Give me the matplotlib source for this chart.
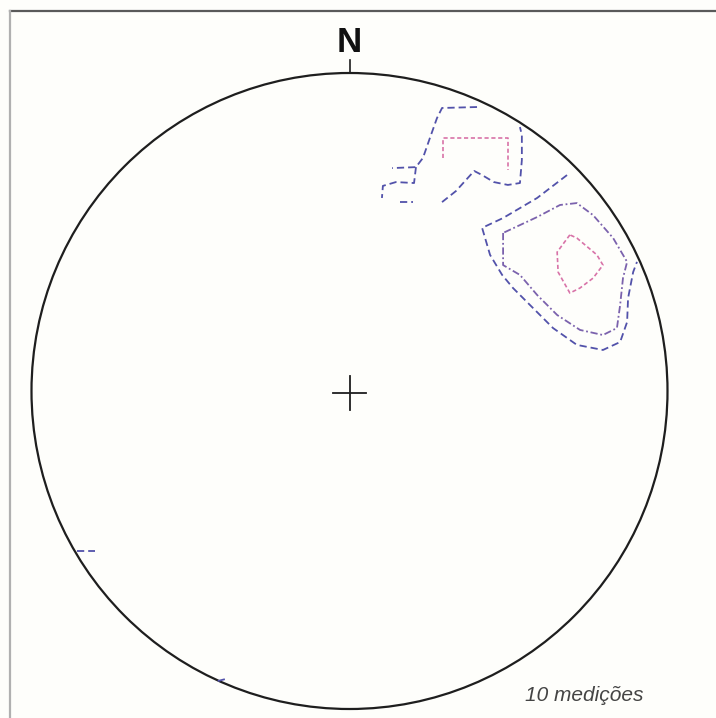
import numpy as np
import matplotlib
matplotlib.use("Agg")
import matplotlib.pyplot as plt
from matplotlib.patches import Circle

# stereonet (unit circle) coordinates of the density contours

# upper group, outer (blue) contour, drawn in pieces
upper_outer_a_x = [0.401, 0.291, 0.275, 0.253, 0.231, 0.209, 0.134]
upper_outer_a_y = [0.893, 0.890, 0.858, 0.796, 0.733, 0.704, 0.701]
upper_outer_b_x = [0.209, 0.203, 0.146, 0.105, 0.102]
upper_outer_b_y = [0.704, 0.654, 0.657, 0.645, 0.607]
upper_outer_c_x = [0.159, 0.200]
upper_outer_c_y = [0.594, 0.594]
upper_outer_d_x = [0.291, 0.335, 0.392, 0.417, 0.454, 0.498, 0.536, 0.542, 0.542, 0.536]
upper_outer_d_y = [0.594, 0.629, 0.692, 0.679, 0.657, 0.648, 0.654, 0.726, 0.805, 0.830]

# upper group, inner (pink) contour
upper_inner_x = [0.294, 0.294, 0.498, 0.498]
upper_inner_y = [0.733, 0.796, 0.796, 0.695]

# lower group, outer (blue) contour
lower_outer_x = [0.684, 0.590, 0.483, 0.417, 0.442, 0.480, 0.514, 0.568, 0.640,
                 0.715, 0.797, 0.851, 0.873, 0.876, 0.892, 0.904]
lower_outer_y = [0.679, 0.607, 0.544, 0.513, 0.428, 0.365, 0.324, 0.270, 0.198,
                 0.145, 0.129, 0.154, 0.217, 0.292, 0.374, 0.406]

# lower group, middle (purple) contour
lower_mid_x = [0.483, 0.483, 0.536, 0.590, 0.653, 0.725, 0.797, 0.841, 0.851,
               0.860, 0.873, 0.829, 0.766, 0.715, 0.662, 0.590, 0.483]
lower_mid_y = [0.497, 0.396, 0.365, 0.302, 0.239, 0.192, 0.176, 0.198, 0.270,
               0.355, 0.406, 0.481, 0.553, 0.591, 0.585, 0.547, 0.497]

# lower group, inner (pink) contour
lower_inner_x = [0.693, 0.653, 0.656, 0.693, 0.725, 0.766, 0.797, 0.778, 0.715, 0.693]
lower_inner_y = [0.491, 0.437, 0.374, 0.308, 0.324, 0.355, 0.396, 0.428, 0.481, 0.491]

# small pieces near the rim
west_stub_x = [-0.857, -0.800]
west_stub_y = [-0.503, -0.503]
south_stub_x = [-0.414, -0.391]
south_stub_y = [-0.912, -0.906]

north_label = "N"
count_label = "10 medições"

blue = "#5252aa"
purple = "#7b62ad"
pink = "#d873a8"

fig = plt.figure(figsize=(7.16, 7.18), dpi=100, facecolor="#fefefb")
ax = fig.add_axes([0, 0, 1, 1])
ax.set_facecolor("#fefefb")
ax.set_xlim(-349.5 / 318, 366.5 / 318)
ax.set_ylim(-327 / 318, 391 / 318)
ax.set_aspect("equal")
ax.axis("off")

# frame lines (top and left only)
ax.plot([0.014, 1.0], [0.985, 0.985], color="#5a5a5a", lw=1.6, transform=ax.transAxes)
ax.plot([0.014, 0.014], [0.0, 0.985], color="#b0b0b0", lw=1.6, transform=ax.transAxes)

# primitive circle
ax.add_patch(Circle((0, 0), 1.0, fill=False, edgecolor="#1e1e1e", lw=1.6))

# north tick + label, centre cross
ax.plot([0, 0], [1.0, 1.04], color="#1e1e1e", lw=1.2)
ax.text(0, 1.097, north_label, ha="center", va="center", fontsize=25,
        fontweight="bold", family="Liberation Sans", color="#111111")
ax.plot([-0.053, 0.053], [-0.006, -0.006], color="#1e1e1e", lw=1.3)
ax.plot([0, 0], [-0.059, 0.047], color="#1e1e1e", lw=1.3)

dash_blue = (0, (4, 2.2))
dash_mid = (0, (4, 1.5, 1, 1.5))
dash_pink = (0, (2.5, 1.6))

for xs, ys in [(upper_outer_a_x, upper_outer_a_y), (upper_outer_b_x, upper_outer_b_y),
               (upper_outer_c_x, upper_outer_c_y), (upper_outer_d_x, upper_outer_d_y),
               (lower_outer_x, lower_outer_y), (west_stub_x, west_stub_y),
               (south_stub_x, south_stub_y)]:
    ax.plot(xs, ys, color=blue, lw=1.3, linestyle=dash_blue)

ax.plot(lower_mid_x, lower_mid_y, color=purple, lw=1.3, linestyle=dash_mid)
ax.plot(upper_inner_x, upper_inner_y, color=pink, lw=1.2, linestyle=dash_pink)
ax.plot(lower_inner_x, lower_inner_y, color=pink, lw=1.2, linestyle=dash_pink)

ax.text(0.737, -0.956, count_label, ha="center", va="center", fontsize=15,
        style="italic", family="Liberation Sans", color="#444444")

fig.savefig("out.png", dpi=100, facecolor=fig.get_facecolor())
